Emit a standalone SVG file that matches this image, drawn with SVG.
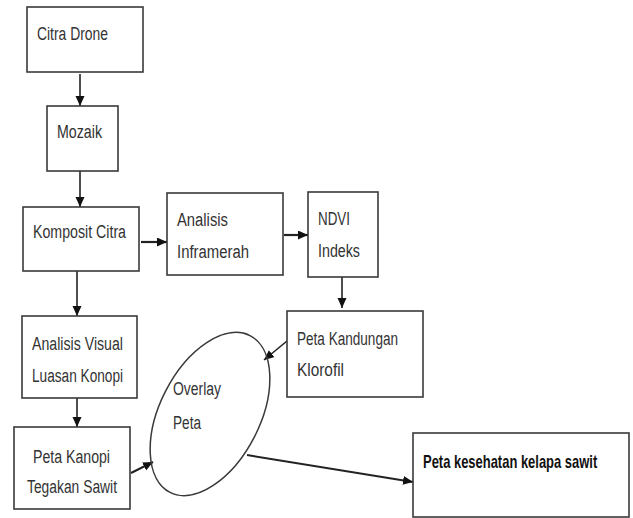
<svg xmlns="http://www.w3.org/2000/svg" width="633" height="518" viewBox="0 0 633 518">
<style>
.box{fill:#fff;stroke:#3a3a3a;stroke-width:1.6}
.t{font-family:"Liberation Sans",Arial,sans-serif;font-size:18px;fill:#333}
.tb{font-family:"Liberation Sans",Arial,sans-serif;font-size:18px;font-weight:bold;fill:#111}
.c{fill:none;stroke:#222;stroke-width:1.6}
</style>
<defs>
<marker id="ah" markerUnits="userSpaceOnUse" markerWidth="11" markerHeight="10" refX="10" refY="4.5" orient="auto">
<path d="M0,0 L10,4.5 L0,9 z" fill="#111"/>
</marker>
</defs>
<rect width="633" height="518" fill="#fff"/>
<g id="connectors">
<line class="c" x1="80" y1="74" x2="80" y2="106" marker-end="url(#ah)"/>
<line class="c" x1="80" y1="171" x2="80" y2="207" marker-end="url(#ah)"/>
<line class="c" x1="141" y1="242" x2="167" y2="242" marker-end="url(#ah)" style="stroke-width:2.2"/>
<line class="c" x1="284" y1="235" x2="308" y2="235" marker-end="url(#ah)" style="stroke-width:2.2"/>
<line class="c" x1="342" y1="277" x2="342" y2="308" marker-end="url(#ah)"/>
<line class="c" x1="77" y1="271" x2="77" y2="316" marker-end="url(#ah)"/>
<line class="c" x1="77" y1="398" x2="77" y2="427" marker-end="url(#ah)"/>
<line class="c" x1="131" y1="473" x2="153" y2="462" marker-end="url(#ah)" style="stroke-width:2"/>
<line class="c" x1="287" y1="341" x2="264" y2="360" marker-end="url(#ah)"/>
<line class="c" x1="247" y1="455" x2="413" y2="482" marker-end="url(#ah)" style="stroke-width:2"/>
</g>
<g id="citra-drone">
<rect class="box" x="27" y="7" width="116" height="65"/>
<text class="t" x="37" y="40" textLength="71" lengthAdjust="spacingAndGlyphs">Citra Drone</text>
</g>
<g id="mozaik">
<rect class="box" x="47" y="106" width="71" height="65"/>
<text class="t" x="57" y="138" textLength="45" lengthAdjust="spacingAndGlyphs">Mozaik</text>
</g>
<g id="komposit-citra">
<rect class="box" x="23" y="207" width="116" height="64"/>
<text class="t" x="33" y="238" textLength="93" lengthAdjust="spacingAndGlyphs">Komposit Citra</text>
</g>
<g id="analisis-inframerah">
<rect class="box" x="167" y="193" width="116" height="82"/>
<text class="t" x="177" y="226" textLength="51" lengthAdjust="spacingAndGlyphs">Analisis</text>
<text class="t" x="177" y="258" textLength="72" lengthAdjust="spacingAndGlyphs">Inframerah</text>
</g>
<g id="ndvi-indeks">
<rect class="box" x="308" y="192" width="70" height="85"/>
<text class="t" x="318" y="225" textLength="32" lengthAdjust="spacingAndGlyphs">NDVI</text>
<text class="t" x="318" y="257" textLength="42" lengthAdjust="spacingAndGlyphs">Indeks</text>
</g>
<g id="peta-kandungan-klorofil">
<rect class="box" x="287" y="311" width="136" height="86"/>
<text class="t" x="297" y="345" textLength="101" lengthAdjust="spacingAndGlyphs">Peta Kandungan</text>
<text class="t" x="297" y="376" textLength="47" lengthAdjust="spacingAndGlyphs">Klorofil</text>
</g>
<g id="analisis-visual">
<rect class="box" x="22" y="316" width="115" height="82"/>
<text class="t" x="32" y="350" textLength="91" lengthAdjust="spacingAndGlyphs">Analisis Visual</text>
<text class="t" x="32" y="382" textLength="91" lengthAdjust="spacingAndGlyphs">Luasan Konopi</text>
</g>
<g id="peta-kanopi">
<rect class="box" x="14" y="427" width="116" height="82"/>
<text class="t" x="33" y="463" textLength="77" lengthAdjust="spacingAndGlyphs">Peta Kanopi</text>
<text class="t" x="27" y="493" textLength="90" lengthAdjust="spacingAndGlyphs">Tegakan Sawit</text>
</g>
<g id="overlay-peta">
<ellipse cx="210" cy="414" rx="50" ry="88" transform="rotate(27 210 414)" fill="none" stroke="#3a3a3a" stroke-width="1.5"/>
<text class="t" x="173" y="395" textLength="48" lengthAdjust="spacingAndGlyphs">Overlay</text>
<text class="t" x="173" y="429" textLength="28" lengthAdjust="spacingAndGlyphs">Peta</text>
</g>
<g id="peta-kesehatan">
<rect class="box" x="413" y="433" width="216" height="84"/>
<g transform="translate(423 468) scale(0.72 1)">
<text class="tb" x="0" y="0">Peta kesehatan kelapa sawit</text>
</g>
</g>
</svg>
